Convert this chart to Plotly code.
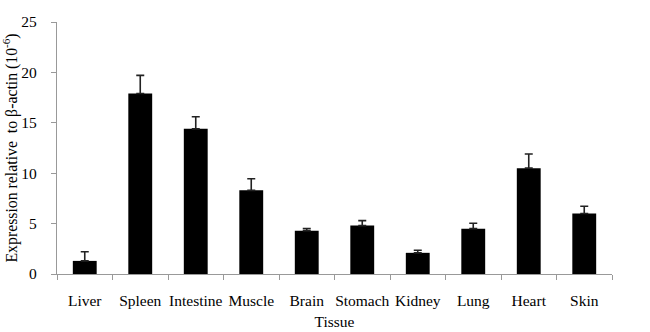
import plotly.graph_objects as go

tissues = ["Liver", "Spleen", "Intestine", "Muscle", "Brain", "Stomach", "Kidney", "Lung", "Heart", "Skin"]
expression = [1.3, 17.9, 14.4, 8.3, 4.3, 4.8, 2.1, 4.5, 10.5, 6.0]
errors = [0.9, 1.8, 1.2, 1.15, 0.22, 0.5, 0.26, 0.54, 1.4, 0.72]
y_ticks = [0, 5, 10, 15, 20, 25]

font = "Liberation Serif, Times New Roman, serif"

fig = go.Figure(go.Bar(
    x=tissues, y=expression,
    marker=dict(color="black", line=dict(width=0)),
    error_y=dict(type="data", array=errors, arrayminus=[0] * len(errors), symmetric=False,
                 visible=True, color="#222222", thickness=1.6, width=4),
))

fig.update_layout(
    width=650, height=332,
    margin=dict(l=57, r=38, t=22, b=58, autoexpand=False),
    paper_bgcolor="white", plot_bgcolor="white",
    bargap=0.57,
    showlegend=False,
    font=dict(family=font, size=15, color="black"),
)
fig.update_xaxes(
    showline=True, linecolor="#999999", linewidth=1.2,
    ticks="outside", tickson="boundaries", ticklen=5, tickcolor="#999999",
    tickfont=dict(size=15.5), tickangle=0, showgrid=False, ticklabelstandoff=12,
    title=dict(text="Tissue", font=dict(size=15.5), standoff=8),
)
fig.update_yaxes(
    range=[0, 25], tickvals=y_ticks,
    showline=True, linecolor="#999999", linewidth=1.2,
    ticks="outside", ticklen=5, tickcolor="#999999",
    tickfont=dict(size=15.5), showgrid=False, zeroline=False, ticklabelstandoff=11,
    title=dict(text="Expression relative  to β-actin (10<sup>-6</sup>)", font=dict(size=15.8), standoff=5),
)

fig.write_html(
    "out.html",
    config={"displayModeBar": False},
    post_script="document.body.style.margin='0';document.body.style.padding='0';",
)
